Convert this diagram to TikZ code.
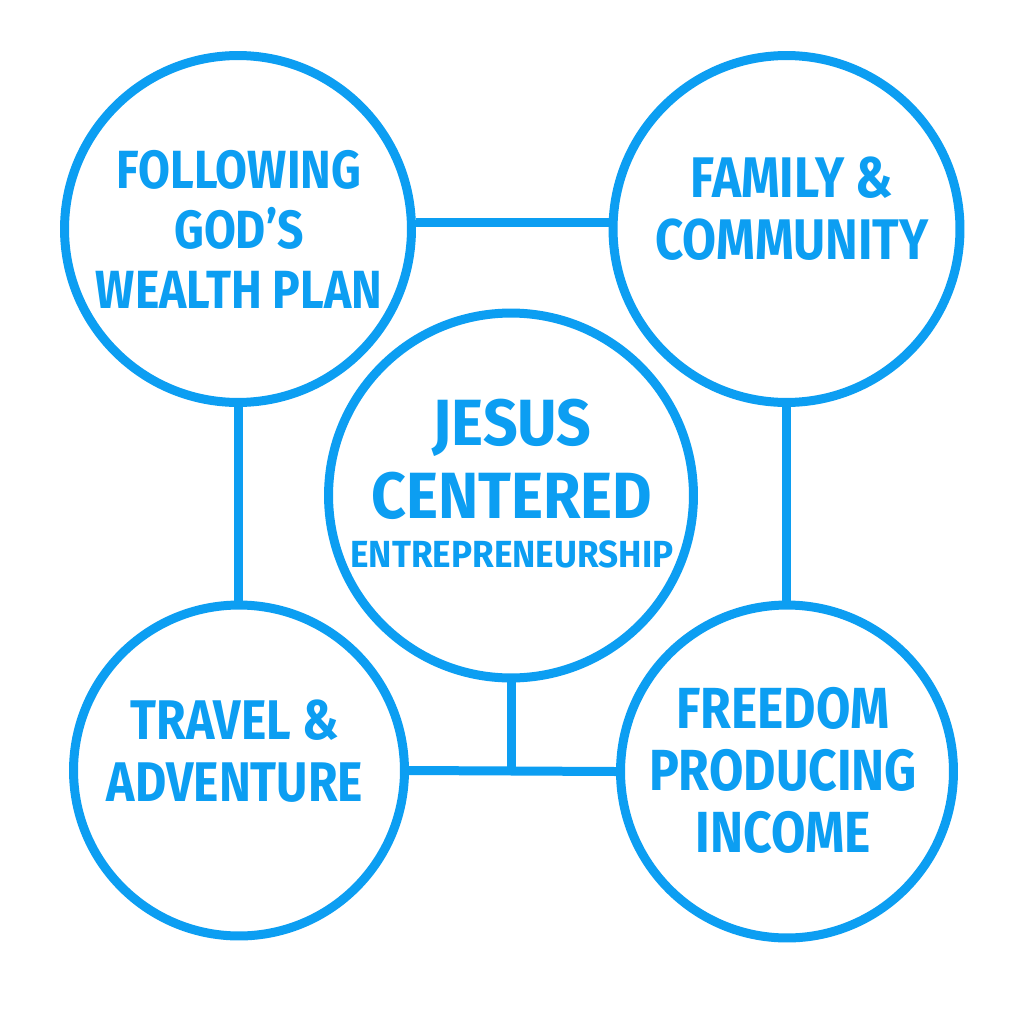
\documentclass[tikz,border=0pt]{standalone}
\usepackage{fontspec}
\newfontfamily\lblfont{Fira Sans}[FakeStretch=0.86]
\newfontfamily\hubfont{Fira Sans}[FakeStretch=0.93]
\usepackage{tikz}
\definecolor{skyblue}{RGB}{12,158,242}
\tikzset{
	ring/.style={circle,draw=skyblue,line width=0.18cm,minimum size=#1,inner sep=0pt},
	link/.style={draw=skyblue,line width=0.18cm},
	lbl/.style={text=skyblue,align=center,inner sep=0pt}
}

\begin{document}
\begin{tikzpicture}[x=0.02cm,y=-0.02cm]
	\useasboundingbox[fill=white] (0,0) rectangle (1024,1024);
	% circles
	\node[ring=6.94cm] (god) at (238,229) {};
	\node[ring=6.94cm] (fam) at (786.5,229) {};
	\node[ring=6.62cm] (trav) at (239,770.5) {};
	\node[ring=6.66cm] (free) at (787,771.5) {};
	\node[ring=7.3cm] (jesus) at (511,495.5) {};
	% connectors
	\draw[link] (god.2) -- (fam.178);
	\draw[link] (god.south) -- (god.south |- trav.north);
	\draw[link] (fam.south) -- (fam.south |- free.north);
	\draw[link] (trav.east) -- (free.west);
	\draw[link] (jesus.south) -- (jesus.south |- trav.east);
	% labels
	\node[lbl,font=\lblfont\bfseries\fontsize{30.6}{34.1}\selectfont] (god-txt) at (239,229) {FOLLOWING\\GOD’S\\WEALTH PLAN};
	\node[lbl,font=\lblfont\bfseries\fontsize{32.6}{35.3}\selectfont] (fam-txt) at (792,209) {FAMILY \&\\COMMUNITY};
	\node[lbl,font=\lblfont\bfseries\fontsize{31.8}{35.3}\selectfont] (trav-txt) at (235,751) {TRAVEL \&\\ADVENTURE};
	\node[lbl,font=\lblfont\bfseries\fontsize{33}{35.3}\selectfont] (free-txt) at (783,770) {FREEDOM\\PRODUCING\\INCOME};
	\node[lbl,font=\hubfont\bfseries\fontsize{37.2}{41.5}\selectfont] (jesus-txt) at (512,484) {JESUS\\CENTERED\\[-13.6pt]{\fontsize{21.5}{27.9}\selectfont ENTREPRENEURSHIP}};
\end{tikzpicture}
\end{document}
